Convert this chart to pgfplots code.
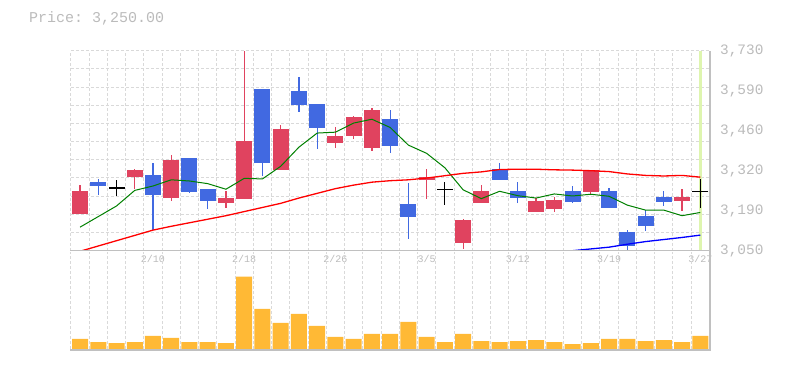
\documentclass[border=0pt]{standalone}
\usepackage{fontspec}
\setmonofont{Liberation Mono}
\usepackage{pgfplots}
\usepackage{pgfplotstable}
\pgfplotsset{compat=1.18}
\definecolor{cup}{HTML}{E0435F}
\definecolor{cdown}{HTML}{4169E1}
\definecolor{cgreen}{HTML}{008000}
\definecolor{cred}{HTML}{FF0000}
\definecolor{cblue}{HTML}{0000FF}
\definecolor{cvol}{HTML}{FFB935}
\definecolor{cgrid}{HTML}{D9D9D9}
\definecolor{caxis}{HTML}{C0C0C0}
\definecolor{ctext}{HTML}{BBBBBB}
\definecolor{chl}{HTML}{DEF5AF}

\pgfplotstableread{
x o h l c
0 3176 3273 3176 3253
3 3302 3329 3261 3324
5 3230 3375 3220 3358
8 3212 3253 3196 3229
9 3226 3730 3226 3423
11 3325 3477 3325 3464
14 3417 3470 3400 3439
15 3441 3508 3429 3505
16 3400 3535 3390 3528
19 3289 3329 3227 3301
21 3077 3159 3057 3154
22 3213 3273 3213 3253
25 3183 3230 3183 3219
26 3193 3233 3182 3222
28 3250 3324 3239 3324
33 3220 3260 3186 3233
}\upT

\pgfplotstableread{
x o h l c
1 3284 3294 3239 3271
4 3307 3349 3120 3239
6 3365 3365 3247 3251
7 3260 3260 3193 3220
10 3600 3600 3304 3347
12 3593 3640 3523 3546
13 3549 3549 3397 3468
17 3498 3529 3383 3407
18 3209 3280 3091 3166
23 3329 3348 3291 3291
24 3253 3284 3212 3230
27 3253 3271 3212 3216
29 3253 3263 3196 3196
30 3114 3120 3049 3067
31 3169 3188 3117 3135
32 3233 3253 3203 3216
}\downT

\pgfplotstableread{
x o h l c
2 3263 3290 3237 3263
20 3259 3284 3206 3259
34 3250 3294 3196 3250
}\dojiT

\pgfplotstableread{
x ma5 ma25
0 3130 3048
1 3166 3066
2 3202 3084
3 3255 3102
4 3270 3120
5 3291 3133
6 3287 3145
7 3278 3157
8 3259 3169
9 3296 3183
10 3294 3197
11 3337 3211
12 3402 3229
13 3450 3245
14 3453 3261
15 3484 3273
16 3497 3283
17 3469 3288
18 3409 3291
19 3381 3297
20 3332 3305
21 3257 3313
22 3227 3318
23 3252 3326
24 3237 3327
25 3229 3327
26 3243 3325
27 3236 3324
28 3242 3322
29 3235 3319
30 3205 3311
31 3188 3306
32 3188 3304
33 3169 3306
34 3180 3300
}\maT

\pgfplotstableread{
x ma75
26 3045
27 3050
28 3056
29 3062
30 3072
31 3081
32 3088
33 3095
34 3103
}\mabT

\pgfplotstableread{
x v
0 10
1 7
2 6
3 7
4 13
5 11
6 7
7 7
8 6
9 72.3
10 40
11 26
12 35
13 23
14 12
15 10
16 15
17 15
18 27
19 12
20 7
21 15
22 8
23 7
24 8
25 9
26 7
27 5
28 6
29 10
30 10
31 8
32 9
33 7
34 13
}\volT

\begin{document}
\begin{tikzpicture}
\path[use as bounding box] (0pt,0pt) rectangle (785pt,370pt);
\node[anchor=west, inner sep=0pt, font=\ttfamily\fontsize{15}{15}\selectfont, text=ctext] at (29pt,352pt) {Price: 3,250.00};

\begin{axis}[
  at={(70.9pt,119.3pt)}, anchor=south west, scale only axis,
  width=638.5pt, height=200pt,
  xmin=-0.5, xmax=34.5, ymin=3050, ymax=3730,
  axis line style={draw=none},
  xtick={4,9,14,19,24,29,34},
  xticklabels={2/10,2/18,2/26,3/5,3/12,3/19,3/27},
  ytick={3050,3186,3322,3458,3594,3730},
  yticklabels={{3,050},{3,190},{3,320},{3,460},{3,590},{3,730}},
  yticklabel pos=right,
  minor xtick={-0.5,0.5,...,34.5},
  minor ytick={3050,3111.82,3173.64,3235.45,3297.27,3359.09,3420.91,3482.73,3544.55,3606.36,3668.18,3730},
  xminorgrids, yminorgrids,
  minor grid style={cgrid, dash pattern=on 3pt off 2pt, line width=1pt},
  major tick length=0pt, minor tick length=0pt,
  xticklabel style={font=\ttfamily\fontsize{10}{10}\selectfont, text=ctext, inner sep=0pt, anchor=north, yshift=-4.5pt},
  yticklabel style={font=\ttfamily\fontsize{14.4}{14.4}\selectfont, text=ctext, inner sep=0pt, anchor=west, xshift=10.6pt},
]
\fill[chl] (axis cs:33.93,3050) rectangle (axis cs:34.09,3730);

% wicks
\addplot[cup, draw=none, mark=none, error bars/.cd, y dir=plus, y explicit, error mark=none,
  error bar style={draw=cup, line width=1.2pt}]
  table[x=x, y=l, y error plus expr=\thisrow{h}-\thisrow{l}] {\upT};
\addplot[cdown, draw=none, mark=none, error bars/.cd, y dir=plus, y explicit, error mark=none,
  error bar style={draw=cdown, line width=1.2pt}]
  table[x=x, y=l, y error plus expr=\thisrow{h}-\thisrow{l}] {\downT};
\addplot[black, draw=none, mark=none, error bars/.cd, y dir=plus, y explicit, error mark=none,
  error bar style={draw=black, line width=1.2pt}]
  table[x=x, y=l, y error plus expr=\thisrow{h}-\thisrow{l}] {\dojiT};
% bodies
\addplot[cup, draw=none, mark=none, error bars/.cd, y dir=plus, y explicit, error mark=none,
  error bar style={draw=cup, line width=16pt}]
  table[x=x, y=o, y error plus expr=\thisrow{c}-\thisrow{o}] {\upT};
\addplot[cdown, draw=none, mark=none, error bars/.cd, y dir=plus, y explicit, error mark=none,
  error bar style={draw=cdown, line width=16pt}]
  table[x=x, y=c, y error plus expr=\thisrow{o}-\thisrow{c}] {\downT};
\addplot[black, only marks, mark=-, mark size=8pt, mark options={line width=1.2pt}]
  table[x=x, y=c] {\dojiT};

% moving averages
\addplot[cgreen, line width=1pt, mark=none] table[x=x, y=ma5] {\maT};
\addplot[cred, line width=1.3pt, mark=none] table[x=x, y=ma25] {\maT};
\addplot[cblue, line width=1.3pt, mark=none] table[x=x, y=ma75] {\mabT};
\end{axis}

\begin{axis}[
  at={(70.9pt,21pt)}, anchor=south west, scale only axis,
  width=638.5pt, height=97pt,
  xmin=-0.5, xmax=34.5, ymin=0, ymax=97,
  axis line style={draw=none},
  xtick={-0.5,0.5,...,34.5},
  xticklabels=\empty,
  xticklabel style={text opacity=0, font=\tiny},
  ytick=\empty,
  xmajorgrids,
  major grid style={cgrid, dash pattern=on 3pt off 2pt, line width=1pt},
  major tick length=0pt,
]
\addplot[ybar, bar width=16pt, fill=cvol, draw=none] table[x=x, y=v] {\volT};
\end{axis}

\draw[caxis, line width=1.2pt] (70pt,119.3pt) -- (710.5pt,119.3pt);
\draw[caxis, line width=1.2pt] (70pt,20pt) -- (710.5pt,20pt);
\draw[caxis, line width=1.2pt] (709.9pt,19.4pt) -- (709.9pt,319.3pt);
\end{tikzpicture}
\end{document}
